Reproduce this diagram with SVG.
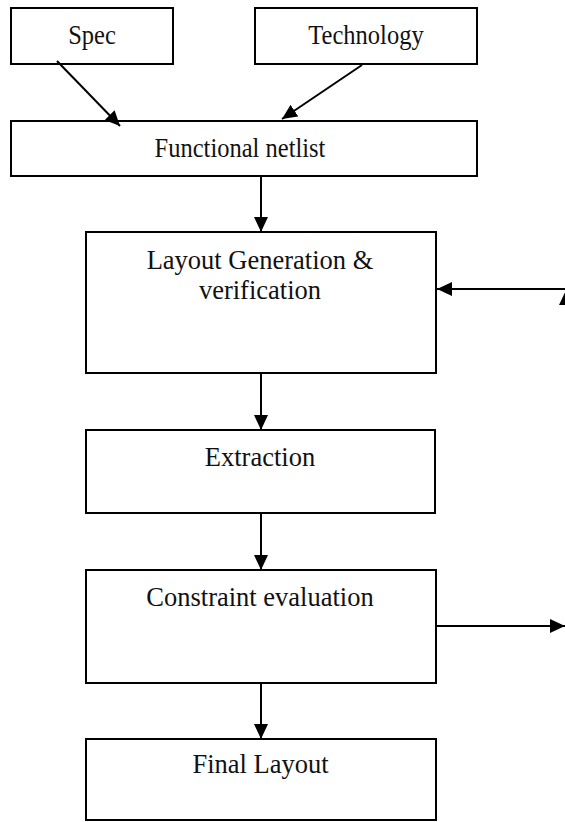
<svg xmlns="http://www.w3.org/2000/svg" width="565" height="822" viewBox="0 0 565 822">
  <style>
    .box { fill: #fff; stroke: #000; stroke-width: 2; }
    .lbl { font-family: "Liberation Serif", "Times New Roman", serif; font-size: 24.5px; fill: #111; text-anchor: middle; }
    .big { font-size: 26.5px; }
    .wire { fill: none; stroke: #000; stroke-width: 2; }
  </style>
  <defs>
    <marker id="head" viewBox="0 0 15 14" refX="15" refY="7" markerWidth="15" markerHeight="14" markerUnits="userSpaceOnUse" orient="auto">
      <path d="M0,0 L15,7 L0,14 Z" fill="#000"/>
    </marker>
  </defs>
  <rect width="565" height="822" fill="#fff"/>

  <!-- top-row labels are drawn slightly taller than wide -->
  <g id="spec">
    <rect class="box" x="11" y="8" width="162" height="56"/>
    <text class="lbl" transform="translate(92,44) scale(1,1.1)">Spec</text>
  </g>
  <g id="technology">
    <rect class="box" x="255" y="8" width="222" height="56"/>
    <text class="lbl" transform="translate(366,44) scale(1,1.1)">Technology</text>
  </g>
  <g id="functional-netlist">
    <rect class="box" x="11" y="121" width="466" height="55"/>
    <text class="lbl" transform="translate(240,157) scale(1,1.1)">Functional netlist</text>
  </g>
  <g id="layout-generation">
    <rect class="box" x="86" y="232" width="350" height="141"/>
    <text class="lbl big" x="260" y="269">Layout Generation &amp;</text>
    <text class="lbl big" x="260" y="299">verification</text>
  </g>
  <g id="extraction">
    <rect class="box" x="86" y="430" width="349" height="83"/>
    <text class="lbl big" x="260" y="466">Extraction</text>
  </g>
  <g id="constraint-evaluation">
    <rect class="box" x="86" y="570" width="350" height="113"/>
    <text class="lbl big" x="260" y="606">Constraint evaluation</text>
  </g>
  <g id="final-layout">
    <rect class="box" x="86" y="739" width="350" height="81"/>
    <text class="lbl big" x="260.5" y="773">Final Layout</text>
  </g>

  <g id="connectors">
    <line class="wire" x1="57" y1="61" x2="120" y2="126" marker-end="url(#head)"/>
    <line class="wire" x1="362" y1="65" x2="282" y2="119" marker-end="url(#head)"/>
    <line class="wire" x1="261" y1="176" x2="261" y2="232" marker-end="url(#head)"/>
    <line class="wire" x1="261" y1="373" x2="261" y2="430" marker-end="url(#head)"/>
    <line class="wire" x1="261" y1="513" x2="261" y2="570" marker-end="url(#head)"/>
    <line class="wire" x1="261" y1="683" x2="261" y2="739" marker-end="url(#head)"/>
    <line class="wire" x1="565" y1="289" x2="437" y2="289" marker-end="url(#head)"/>
    <polygon points="567,288 559,305 575,305" fill="#000"/>
    <line class="wire" x1="436" y1="626" x2="565" y2="626" marker-end="url(#head)"/>
  </g>
</svg>
